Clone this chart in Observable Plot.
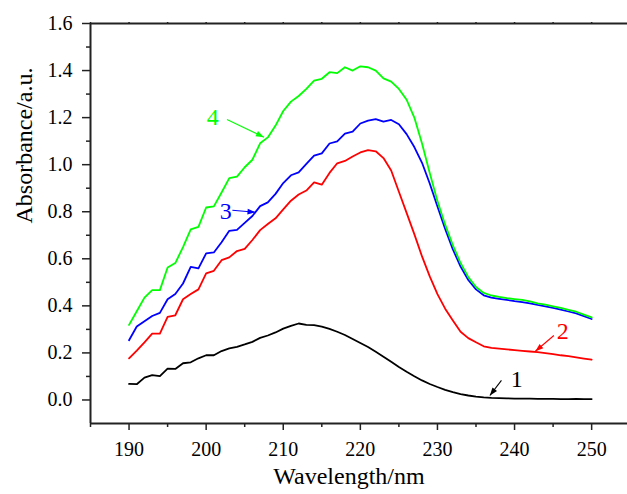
<!DOCTYPE html>
<html>
<head>
<meta charset="utf-8">
<script src="https://cdn.jsdelivr.net/npm/d3@7"></script>
<script src="https://cdn.jsdelivr.net/npm/@observablehq/plot@0.6"></script>
<style>
  html, body { margin: 0; padding: 0; background: #fff; overflow: hidden; }
  #chart { width: 627px; height: 494px; }
  #chart svg text { font-family: 'Liberation Serif', 'Times New Roman', serif; }
</style>
</head>
<body>
<div id="chart"></div>
<script>
const wavelength = [190,191,192,193,194,195,196,197,198,199,200,201,202,203,204,205,206,207,208,209,210,211,212,213,214,215,216,217,218,219,220,221,222,223,224,225,226,227,228,229,230,231,232,233,234,235,236,237,238,239,240,241,242,243,244,245,246,247,248,249,250];

const curve1 = [0.068,0.067,0.095,0.106,0.101,0.133,0.132,0.156,0.160,0.177,0.190,0.190,0.208,0.219,0.226,0.236,0.247,0.264,0.274,0.287,0.303,0.315,0.325,0.319,0.318,0.312,0.302,0.290,0.276,0.259,0.242,0.225,0.205,0.184,0.162,0.140,0.120,0.101,0.083,0.068,0.055,0.043,0.033,0.025,0.019,0.014,0.011,0.009,0.008,0.007,0.006,0.006,0.006,0.005,0.005,0.005,0.004,0.004,0.005,0.004,0.004];

const curve2 = [0.177,0.210,0.245,0.282,0.282,0.353,0.360,0.428,0.450,0.470,0.538,0.549,0.594,0.606,0.633,0.642,0.680,0.722,0.748,0.772,0.810,0.847,0.873,0.890,0.925,0.915,0.965,1.006,1.016,1.035,1.052,1.062,1.057,1.028,0.975,0.885,0.795,0.705,0.610,0.525,0.450,0.388,0.338,0.290,0.263,0.245,0.228,0.221,0.218,0.215,0.212,0.209,0.206,0.203,0.199,0.195,0.190,0.186,0.181,0.176,0.171];

const curve3 = [0.254,0.312,0.335,0.357,0.370,0.428,0.450,0.495,0.566,0.559,0.623,0.627,0.670,0.719,0.723,0.753,0.782,0.824,0.840,0.876,0.922,0.955,0.967,1.003,1.038,1.048,1.090,1.099,1.132,1.140,1.175,1.187,1.194,1.183,1.190,1.172,1.130,1.075,1.008,0.920,0.822,0.727,0.640,0.567,0.510,0.470,0.445,0.435,0.430,0.425,0.420,0.416,0.411,0.404,0.398,0.391,0.384,0.376,0.368,0.356,0.344];

const curve4 = [0.319,0.377,0.435,0.467,0.467,0.563,0.582,0.650,0.725,0.736,0.818,0.823,0.882,0.943,0.949,0.989,1.021,1.091,1.116,1.166,1.228,1.268,1.292,1.322,1.357,1.365,1.393,1.389,1.414,1.400,1.418,1.414,1.400,1.367,1.353,1.322,1.276,1.200,1.090,0.965,0.845,0.745,0.657,0.582,0.522,0.480,0.455,0.444,0.438,0.433,0.429,0.425,0.419,0.411,0.405,0.398,0.391,0.383,0.375,0.363,0.351];

const seriesNames = ["1","2","3","4"];
const seriesColors = ["#000000","#ff0000","#0000ff","#00ff00"];
const seriesValues = [curve1, curve2, curve3, curve4];

const xMajorTicks = [190,200,210,220,230,240,250];
const xMinorTicks = [185,195,205,215,225,235,245];
const yMajorTicks = [0,0.2,0.4,0.6,0.8,1.0,1.2,1.4,1.6];
const yMinorTicks = [0.1,0.3,0.5,0.7,0.9,1.1,1.3,1.5];

// label positions (data coordinates) and arrows
const labelX = [240.3, 246.25, 202.55, 200.85];
const labelY = [0.086, 0.291, 0.801, 1.200];
const arrowX1 = [238.3, 245.1, 203.4, 202.7];
const arrowY1 = [0.083, 0.274, 0.806, 1.192];
const arrowX2 = [236.8, 242.7, 206.4, 207.5];
const arrowY2 = [0.019, 0.207, 0.798, 1.117];

const rows = [];
seriesValues.forEach((vals, s) => {
  vals.forEach((v, i) => rows.push({series: seriesNames[s], wl: wavelength[i], a: v}));
});
const labels = seriesNames.map((n, i) => ({name: n, x: labelX[i], y: labelY[i], c: seriesColors[i]}));
const arrows = seriesNames.map((n, i) => ({x1: arrowX1[i], y1: arrowY1[i], x2: arrowX2[i], y2: arrowY2[i], c: seriesColors[i]}));

const axisColor = "#222";
const font = "'Liberation Serif', 'Times New Roman', serif";

function filledArrow(color) {
  const m = d3.create("svg:marker")
    .attr("viewBox", "-10 -5 10 10")
    .attr("markerWidth", 9)
    .attr("markerHeight", 8)
    .attr("markerUnits", "userSpaceOnUse")
    .attr("orient", "auto")
    .attr("fill", color)
    .attr("stroke", "none");
  m.append("path").attr("d", "M-10,-3.6L0,0L-10,3.6Z");
  return m.node();
}

const arrowMarks = arrows.map(a => Plot.link([a], {x1: "x1", y1: "y1", x2: "x2", y2: "y2", stroke: a.c, strokeWidth: 1.1, markerEnd: filledArrow}));

const chart = Plot.plot({
  width: 627,
  height: 494,
  marginLeft: 90,
  marginRight: 0,
  marginTop: 23,
  marginBottom: 71,
  style: {fontFamily: font, background: "#fff", color: "#000"},
  x: {domain: [185, 254.65], axis: null},
  y: {domain: [-0.1, 1.6], axis: null},
  color: {domain: seriesNames, range: seriesColors},
  marks: [
    Plot.line(rows, {x: "wl", y: "a", z: "series", stroke: "series", strokeWidth: 1.8}),
    ...arrowMarks,
    Plot.text(labels, {x: "x", y: "y", text: "name", fill: d => d.c, fontSize: 24, fontFamily: font}),
    // axes
    Plot.axisX(xMajorTicks, {anchor: "bottom", tickSize: 7, tickPadding: 11, fontSize: 20, fontFamily: font, stroke: axisColor, strokeWidth: 1.5, fill: "#000", label: null}),
    Plot.axisX(xMinorTicks, {anchor: "bottom", tickSize: 4, tickFormat: () => "", stroke: axisColor, strokeWidth: 1.5, label: null}),
    Plot.axisX([...xMajorTicks, ...xMinorTicks], {anchor: "top", tickSize: 2, tickFormat: () => "", stroke: axisColor, strokeWidth: 1.5, label: null}),
    Plot.axisY(yMajorTicks, {anchor: "left", tickSize: 8, tickPadding: 10, fontSize: 20, fontFamily: font, tickFormat: d3.format(".1f"), stroke: axisColor, strokeWidth: 1.5, fill: "#000", label: null}),
    Plot.axisY(yMinorTicks, {anchor: "left", tickSize: 4, tickFormat: () => "", stroke: axisColor, strokeWidth: 1.5, label: null}),
    Plot.ruleX([185], {stroke: axisColor, strokeWidth: 2}),
    Plot.ruleY([-0.1, 1.6], {stroke: axisColor, strokeWidth: 2}),
    Plot.text(["Wavelength/nm"], {text: d => d, frameAnchor: "bottom", dy: 60, dx: -10, fontSize: 24, fontFamily: font, fill: "#000"}),
    Plot.text(["Absorbance/a.u."], {text: d => d, frameAnchor: "left", rotate: -90, dx: -66, fontSize: 24, fontFamily: font, fill: "#000"})
  ]
});
document.getElementById("chart").append(chart);
</script>
</body>
</html>
